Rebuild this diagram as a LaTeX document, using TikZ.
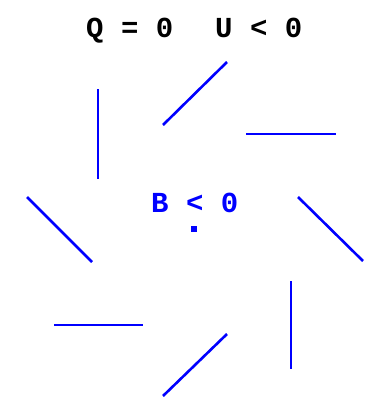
\documentclass[tikz,border=0pt]{standalone}
\usepackage{fontspec}
\setmonofont{Liberation Mono}
\begin{document}
\begin{tikzpicture}[x=1pt,y=-1pt,
  seg/.style={draw=blue, line width=2.6pt},
  lbl/.style={font=\ttfamily\bfseries\fontsize{29}{29}\selectfont, inner sep=0pt, anchor=base west}]
\useasboundingbox (0,0) rectangle (372,397);
\node[lbl, text=black] (q) at (86,37) {Q = 0};
\node[lbl, text=black] (u) at (215,37) {U < 0};
\node[lbl, text=blue] (b) at (151,212) {B < 0};
\node[fill=blue, minimum width=6pt, minimum height=6pt, inner sep=0pt] (dot) at (194,229) {};
\coordinate (a1) at (98,89);  \coordinate (a2) at (98,179);
\coordinate (b1) at (163,125); \coordinate (b2) at (227,62);
\coordinate (c1) at (246,134); \coordinate (c2) at (336,134);
\coordinate (d1) at (27,197);  \coordinate (d2) at (92,262);
\coordinate (e1) at (298,197); \coordinate (e2) at (363,261);
\coordinate (f1) at (54,325);  \coordinate (f2) at (143,325);
\coordinate (g1) at (163,396); \coordinate (g2) at (227,334);
\coordinate (h1) at (291,281); \coordinate (h2) at (291,369);
\draw[seg] (a1) -- (a2);
\draw[seg] (b1) -- (b2);
\draw[seg] (c1) -- (c2);
\draw[seg] (d1) -- (d2);
\draw[seg] (e1) -- (e2);
\draw[seg] (f1) -- (f2);
\draw[seg] (g1) -- (g2);
\draw[seg] (h1) -- (h2);
\end{tikzpicture}
\end{document}
